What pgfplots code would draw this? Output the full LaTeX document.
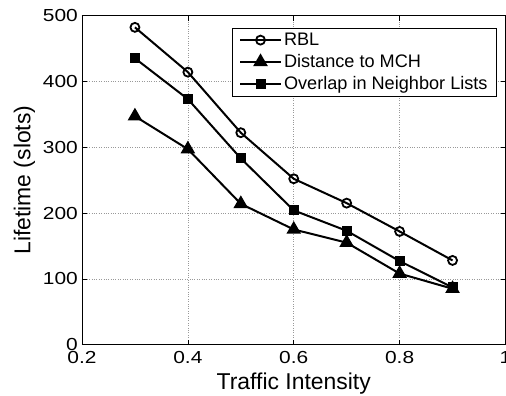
\documentclass[border=0pt]{standalone}
\usepackage{pgfplots}
\pgfplotsset{compat=1.18}
\usepackage{fontspec}
\setmainfont{Liberation Sans}
\begin{document}
\begin{tikzpicture}
\begin{axis}[
  at={(0,0)}, anchor=south west,
  scale only axis,
  width=423.5bp, height=329.2bp,
  xmin=0.2, xmax=1, ymin=0, ymax=500,
  xtick={0.2,0.4,0.6,0.8,1},
  xticklabels={0.2,0.4,0.6,0.8,1},
  ytick={0,100,200,300,400,500},
  /pgf/number format/assume math mode=true,
  tick label style={font=\fontsize{17.5}{20}\selectfont, xscale=1.2},
  xticklabel style={yshift=-3bp},
  axis line style={line width=0.9bp},
  tick style={black, line width=0.7bp},
  major tick length=5bp,
  tick align=inside,
  grid=major,
  major grid style={dotted, gray!80, line width=0.7bp},
  xlabel={Traffic Intensity},
  ylabel={Lifetime (slots)},
  label style={font=\fontsize{23}{27}\selectfont},
  xlabel style={at={(axis description cs:0.5,-0.1352)}, anchor=base},
  ylabel style={at={(axis description cs:-0.1358,0.5)}, anchor=center},
  legend style={at={(0.98,0.963)}, anchor=north east, draw=black, line width=0.9bp,
    font=\fontsize{18.2}{21}\selectfont, legend cell align=left, row sep=3.5bp,
    inner xsep=7bp, inner ysep=3bp},
  legend image code/.code={\draw[#1, line width=2bp] (0bp,0bp) -- (20.5bp,0bp) plot coordinates {(20.5bp,0bp)} -- (41bp,0bp);},
]
\addplot[black, line width=2bp, mark=o, mark size=4.5bp, mark options={solid, line width=1.8bp, fill=none}]
  coordinates {(0.3,482)(0.4,414)(0.5,322)(0.6,252)(0.7,215)(0.8,172)(0.9,128)};
\addlegendentry{RBL}
\addplot[black, line width=2bp, mark=triangle*, mark size=6.5bp, mark options={solid, fill=black}]
  coordinates {(0.3,347)(0.4,297)(0.5,214)(0.6,175)(0.7,155)(0.8,108)(0.9,85)};
\addlegendentry{Distance to MCH}
\addplot[black, line width=2bp, mark=square*, mark size=4bp, mark options={solid, fill=black}]
  coordinates {(0.3,435)(0.4,373)(0.5,283)(0.6,204)(0.7,173)(0.8,127)(0.9,87)};
\addlegendentry{Overlap in Neighbor Lists}
\end{axis}
\pgfresetboundingbox
\path[use as bounding box] (-82bp,-51.3bp) rectangle (424bp,344.7bp);
\end{tikzpicture}
\end{document}
